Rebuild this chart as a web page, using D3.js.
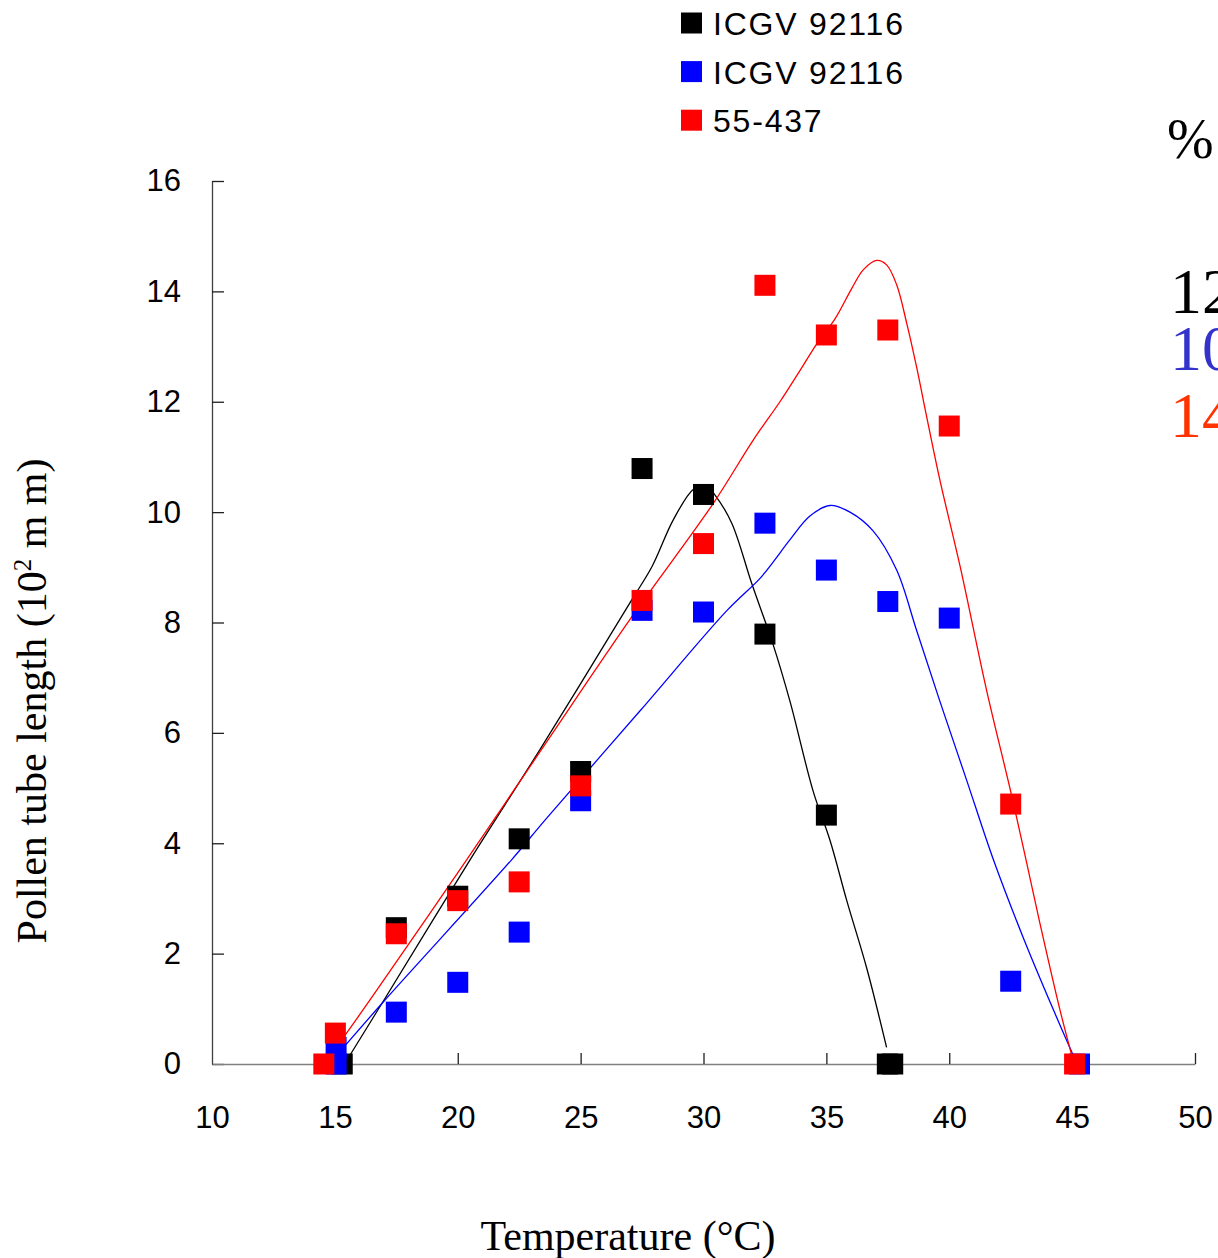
<!DOCTYPE html>
<html>
<head>
<meta charset="utf-8">
<script src="https://d3js.org/d3.v7.min.js"></script>
<style>
body { margin: 0; background: #fff; }
svg { display: block; }
</style>
</head>
<body>
<svg></svg>
<script>
// tick values
var xTicks = [10, 15, 20, 25, 30, 35, 40, 45, 50];
var yTicks = [0, 2, 4, 6, 8, 10, 12, 14, 16];

// legend names
var seriesNames = ["ICGV 92116", "ICGV 92116", "55-437"];
var seriesColors = ["#000000", "#0000ff", "#ff0000"];

// measured points (temperature, length)
var blackTemp = [15.3, 17.5, 20, 22.5, 25, 27.5, 30, 32.5, 35, 37.48, 37.7];
var blackLen = [0, 2.47, 3.04, 4.08, 5.3, 10.79, 10.32, 7.79, 4.51, 0, 0];
var blueTemp = [15.05, 15.05, 17.5, 20, 22.5, 25, 27.5, 30, 32.5, 35, 37.5, 40, 42.5, 45.3];
var blueLen = [0, 0.3, 0.94, 1.48, 2.39, 4.77, 8.22, 8.19, 9.8, 8.95, 8.38, 8.08, 1.5, 0];
var redTemp = [14.55, 15.02, 17.5, 20, 22.5, 25, 27.5, 30, 32.5, 35, 37.5, 40, 42.5, 45.1];
var redLen = [0, 0.56, 2.36, 2.96, 3.3, 5.04, 8.4, 9.43, 14.11, 13.21, 13.3, 11.56, 4.71, 0];

// fitted curves
var blackCurveT = [15.6, 17, 20.5, 23.35, 27.08, 27.9, 28.77, 29.6, 30.1, 30.47, 31.15, 31.96, 32.84, 33.52, 34.47, 35.15, 35.83, 36.64, 37.45];
var blackCurveL = [0.15, 1.16, 3.7, 5.7, 8.41, 9.01, 9.86, 10.42, 10.49, 10.31, 9.8, 8.71, 7.59, 6.57, 4.93, 4.05, 2.96, 1.74, 0.3];
var blueCurveT = [15.45, 17.04, 22.19, 23.55, 27.42, 30.94, 32.3, 32.84, 33.52, 34.33, 35.15, 35.96, 36.9, 37.86, 38.67, 39.62, 40.71, 41.79, 43.02, 44.23, 45.15];
var blueCurveL = [0.35, 1.16, 3.7, 4.42, 6.4, 8.21, 8.8, 9.1, 9.5, 9.93, 10.12, 10.0, 9.66, 8.95, 7.86, 6.57, 5.14, 3.71, 2.28, 0.99, 0.05];
var redCurveT = [15.3, 16.43, 20.36, 23.35, 27.08, 30.4, 32.03, 33.11, 33.93, 34.61, 35.35, 36.03, 36.5, 37.05, 37.45, 37.86, 38.27, 38.67, 39.08, 39.62, 40.44, 41.52, 42.61, 43.69, 44.5, 45.05];
var redCurveL = [0.45, 1.16, 3.7, 5.66, 8.1, 10.16, 11.31, 12.0, 12.57, 13.05, 13.5, 14.05, 14.39, 14.56, 14.48, 14.12, 13.42, 12.63, 11.73, 10.58, 9.02, 6.77, 4.73, 2.55, 0.99, 0.05];

// side notes (cut off at the right edge)
var noteTexts = ["12", "10", "14"];
var noteColors = ["#000000", "#3333cc", "#ff3300"];

function zip(a, b) {
	return a.map(function(v, i) { return [v, b[i]]; });
}

var svg = d3.select("svg")
	.attr("width", 1218)
	.attr("height", 1258);

var scaleX = d3.scaleLinear().domain([10, 50]).range([212, 1195]);
var scaleY = d3.scaleLinear().domain([0, 16]).range([1064, 181]);

// Y axis, ticks point inward
var yAxis = svg.append("g")
	.attr("transform", "translate(212,0)")
	.call(d3.axisLeft(scaleY).tickValues(yTicks).tickSize(-12).tickSizeOuter(0).tickPadding(31));
yAxis.select(".domain").attr("stroke", "#404040").attr("stroke-width", 1.3);
yAxis.selectAll(".tick line").attr("stroke", "#202020").attr("stroke-width", 1.3);
yAxis.selectAll("text")
	.style("font-family", "'Liberation Sans', Arial, sans-serif")
	.style("font-size", "31px")
	.attr("fill", "#000");

// X axis, grey line
var xAxis = svg.append("g")
	.attr("transform", "translate(0,1064)")
	.call(d3.axisBottom(scaleX).tickValues(xTicks).tickSize(-11).tickSizeOuter(0).tickPadding(42));
xAxis.select(".domain").attr("stroke", "#808080").attr("stroke-width", 1.6);
xAxis.selectAll(".tick line").attr("stroke", "#202020").attr("stroke-width", 1.3);
xAxis.selectAll(".tick").filter(function(d) { return d == 10; }).select("line").remove();
xAxis.selectAll("text")
	.style("font-family", "'Liberation Sans', Arial, sans-serif")
	.style("font-size", "31px")
	.attr("fill", "#000");

// curves
var line = d3.line()
	.x(function(d) { return scaleX(d[0]); })
	.y(function(d) { return scaleY(d[1]); })
	.curve(d3.curveCatmullRom);

var curves = [zip(blackCurveT, blackCurveL), zip(blueCurveT, blueCurveL), zip(redCurveT, redCurveL)];
curves.forEach(function(c, i) {
	svg.append("path")
		.datum(c)
		.attr("d", line)
		.attr("fill", "none")
		.attr("stroke", seriesColors[i])
		.attr("stroke-width", 1.3);
});

// square markers
var points = [zip(blackTemp, blackLen), zip(blueTemp, blueLen), zip(redTemp, redLen)];
var size = 21;
points.forEach(function(p, i) {
	svg.append("g").selectAll("rect")
		.data(p)
		.enter()
		.append("rect")
		.attr("x", function(d) { return scaleX(d[0]) - size / 2; })
		.attr("y", function(d) { return scaleY(d[1]) - size / 2; })
		.attr("width", size)
		.attr("height", size)
		.attr("fill", seriesColors[i]);
});

// legend
var legend = svg.append("g");
seriesNames.forEach(function(name, i) {
	var cy = 23 + i * 48.6;
	legend.append("rect")
		.attr("x", 681)
		.attr("y", cy - 10.5)
		.attr("width", 21)
		.attr("height", 21)
		.attr("fill", seriesColors[i]);
	legend.append("text")
		.attr("x", 713)
		.attr("y", cy + 12)
		.style("font-family", "'Liberation Sans', Arial, sans-serif")
		.style("font-size", "32px")
		.style("letter-spacing", "1.8px")
		.text(name);
});

// axis titles
svg.append("text")
	.attr("x", 628)
	.attr("y", 1250)
	.attr("text-anchor", "middle")
	.style("font-family", "'Liberation Serif', 'Times New Roman', serif")
	.style("font-size", "42px")
	.text("Temperature (°C)");

var yTitle = svg.append("text")
	.attr("transform", "translate(46,701) rotate(-90)")
	.attr("text-anchor", "middle")
	.style("font-family", "'Liberation Serif', 'Times New Roman', serif")
	.style("font-size", "42px");
yTitle.append("tspan").text("Pollen tube length (10");
yTitle.append("tspan").attr("dy", -15).style("font-size", "25px").text("2");
yTitle.append("tspan").attr("dy", 15).text(" m m)");

// notes on the right
svg.append("text")
	.attr("x", 1167)
	.attr("y", 158)
	.style("font-family", "'Liberation Serif', 'Times New Roman', serif")
	.style("font-size", "56px")
	.text("%");
noteTexts.forEach(function(t, i) {
	svg.append("text")
		.attr("x", 1170)
		.attr("y", [313, 370, 437][i])
		.attr("fill", noteColors[i])
		.style("font-family", "'Liberation Serif', 'Times New Roman', serif")
		.style("font-size", "64px")
		.text(t);
});
</script>
</body>
</html>
